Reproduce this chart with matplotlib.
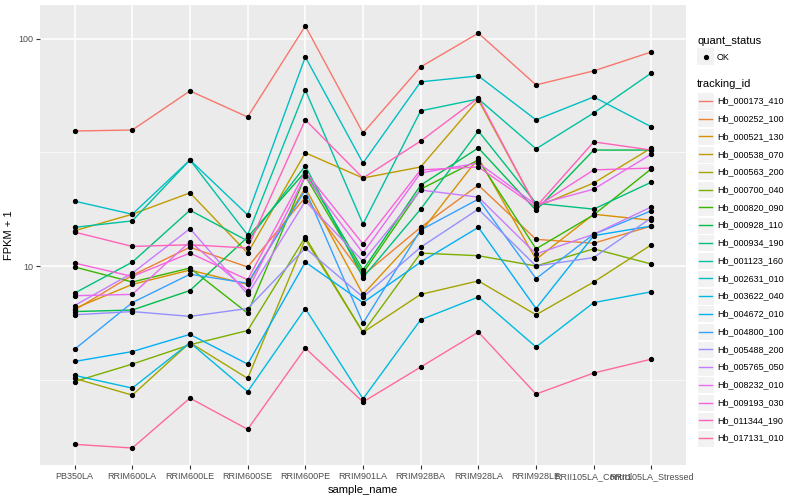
import matplotlib
matplotlib.use("Agg")
import matplotlib.pyplot as plt
from matplotlib.lines import Line2D
from matplotlib.patches import Rectangle
import numpy as np

plt.rcParams["font.family"] = ["Liberation Sans", "DejaVu Sans"]

samples = ["PB350LA", "RRIM600LA", "RRIM600LE", "RRIM600SE", "RRIM600PE", "RRIM901LA",
           "RRIM928BA", "RRIM928LA", "RRIM928LE", "RRII105LA_Control", "RRII105LA_Stressed"]

tracking_ids = ["Hb_000173_410", "Hb_000252_100", "Hb_000521_130", "Hb_000538_070",
                "Hb_000563_200", "Hb_000700_040", "Hb_000820_090", "Hb_000928_110",
                "Hb_000934_190", "Hb_001123_160", "Hb_002631_010", "Hb_003622_040",
                "Hb_004672_010", "Hb_004800_100", "Hb_005488_200", "Hb_005765_050",
                "Hb_008232_010", "Hb_009193_030", "Hb_011344_190", "Hb_017131_010"]

# FPKM + 1, one list per gene, in sample order
fpkm = [
    [39.3, 39.7, 59.0, 45.3, 114, 38.5, 75.3, 106, 62.7, 72.3, 87.6],
    [6.4, 9.1, 12.1, 9.9, 20.1, 9.1, 14.8, 22.7, 13.1, 12.6, 15.0],
    [6.5, 8.3, 9.6, 8.3, 22.1, 7.5, 14.1, 29.9, 10.7, 16.9, 15.9],
    [14.3, 16.9, 21.0, 11.4, 31.5, 24.4, 27.3, 53.9, 18.2, 23.2, 33.1],
    [3.2, 2.7, 4.6, 3.2, 13.1, 5.1, 7.5, 8.6, 6.1, 8.5, 12.4],
    [3.1, 3.7, 4.5, 5.2, 13.4, 5.1, 11.4, 11.1, 10.0, 11.9, 10.2],
    [9.9, 8.5, 9.8, 6.2, 24.9, 9.3, 21.8, 29.3, 11.9, 16.8, 26.8],
    [6.3, 6.4, 7.8, 13.4, 26.0, 9.6, 22.7, 33.1, 17.6, 32.4, 32.4],
    [7.6, 10.4, 17.6, 12.9, 27.6, 8.9, 17.8, 39.3, 18.9, 17.8, 23.4],
    [14.8, 15.8, 29.3, 13.7, 59.6, 15.3, 48.2, 54.4, 32.8, 47.2, 70.8],
    [19.3, 16.9, 29.3, 16.8, 83.3, 28.4, 64.7, 68.7, 44.0, 55.5, 41.0],
    [3.3, 2.9, 4.6, 2.8, 6.5, 2.6, 5.8, 7.3, 4.4, 6.9, 7.7],
    [3.8, 4.2, 5.0, 3.7, 10.4, 6.9, 10.4, 14.8, 6.5, 13.6, 15.0],
    [4.3, 6.9, 9.2, 8.4, 21.6, 5.6, 14.4, 19.7, 8.8, 13.8, 17.5],
    [6.1, 6.3, 6.0, 6.5, 12.0, 7.3, 12.1, 17.8, 10.0, 10.9, 16.3],
    [6.7, 9.3, 14.6, 7.5, 19.3, 10.5, 21.6, 20.1, 11.3, 13.8, 18.2],
    [7.4, 7.5, 12.8, 7.8, 24.9, 11.4, 25.7, 28.4, 18.6, 21.8, 31.1],
    [10.3, 9.0, 11.4, 8.7, 26.0, 12.5, 26.5, 27.3, 18.2, 26.5, 27.0],
    [14.1, 12.2, 12.4, 12.0, 44.0, 24.4, 35.5, 55.0, 18.2, 35.2, 32.4],
    [1.64, 1.58, 2.62, 1.91, 4.35, 2.52, 3.59, 5.12, 2.73, 3.38, 3.89],
]


def hcl_hex(h, c=100.0, l=65.0):
    # polar LUV -> sRGB, same as R's hcl()
    hr = np.radians(h)
    u, v = c * np.cos(hr), c * np.sin(hr)
    xn, yn, zn = 95.047, 100.0, 108.883
    un = 4 * xn / (xn + 15 * yn + 3 * zn)
    vn = 9 * yn / (xn + 15 * yn + 3 * zn)
    Y = yn * ((l + 16) / 116) ** 3
    up = u / (13 * l) + un
    vp = v / (13 * l) + vn
    X = 9 * Y * up / (4 * vp)
    Z = -X / 3 - 5 * Y + 3 * Y / vp
    xyz = np.array([X, Y, Z]) / 100
    m = np.array([[3.2404542, -1.5371385, -0.4985314],
                  [-0.9692660, 1.8760108, 0.0415560],
                  [0.0556434, -0.2040259, 1.0572252]])
    rgb = m @ xyz
    rgb = np.where(rgb <= 0.0031308, 12.92 * rgb, 1.055 * np.power(np.clip(rgb, 0, None), 1 / 2.4) - 0.055)
    return tuple(np.clip(rgb, 0, 1))


n = len(tracking_ids)
hues = np.linspace(15, 375, n + 1)[:-1]
colors = [hcl_hex(h) for h in hues]

fig = plt.figure(figsize=(8, 5), dpi=100)
ax = fig.add_axes([0.05, 0.07, 0.8075, 0.92])
ax.set_facecolor("#EBEBEB")

x = np.arange(len(samples))
for vals, col in zip(fpkm, colors):
    ax.plot(x, vals, color=col, lw=1.0, zorder=3)
for vals in fpkm:
    ax.plot(x, vals, "o", color="black", ms=2.8, zorder=4)

ax.set_yscale("log")
ax.set_ylim(1.33, 141)
ax.set_xlim(-0.6, len(samples) - 0.4)
ax.set_yticks([10, 100])
ax.set_yticklabels(["10", "100"])
ax.set_yticks([10 ** 0.5, 10 ** 1.5], minor=True)
ax.yaxis.set_minor_formatter(plt.NullFormatter())
ax.set_xticks(x)
ax.set_xticklabels(samples)

ax.grid(which="major", color="white", lw=1.1, zorder=0)
ax.grid(which="minor", axis="y", color="white", lw=0.5, zorder=0)
ax.set_axisbelow(True)
for s in ax.spines.values():
    s.set_visible(False)
ax.tick_params(which="major", length=3, color="#333333", labelsize=6.5, labelcolor="#4D4D4D", pad=2)
ax.tick_params(which="minor", length=0)
ax.set_xlabel("sample_name", fontsize=8)
ax.set_ylabel("FPKM + 1", fontsize=8)
ax.xaxis.set_label_coords(0.5, -0.043)
ax.yaxis.set_label_coords(-0.04, 0.5)

# legends, drawn ggplot style
W, H = 800.0, 500.0


def fx(px):
    return px / W


def fy(py):
    return 1 - py / H


fig.text(fx(697), fy(41), "quant_status", fontsize=8, va="center")
fig.add_artist(Rectangle((fx(697), fy(65)), fx(17), 17 / H, transform=fig.transFigure,
                         facecolor="#F2F2F2", edgecolor="none"))
fig.add_artist(Line2D([fx(705.5)], [fy(57)], marker="o", ms=2.8, color="black",
                      transform=fig.transFigure))
fig.text(fx(717), fy(57), "OK", fontsize=6.5, va="center")

fig.text(fx(697), fy(84), "tracking_id", fontsize=8, va="center")
step = (438 - 101) / (n - 1)
for i, (name, col) in enumerate(zip(tracking_ids, colors)):
    yc = 101 + i * step
    fig.add_artist(Rectangle((fx(697), fy(yc + 8.5)), fx(17), 17 / H, transform=fig.transFigure,
                             facecolor="#F2F2F2", edgecolor="white", lw=0.8))
    fig.add_artist(Line2D([fx(699), fx(712)], [fy(yc), fy(yc)], color=col, lw=1.0,
                          transform=fig.transFigure))
    fig.text(fx(717), fy(yc), name, fontsize=6.5, va="center")

fig.savefig("out.png", dpi=100)
